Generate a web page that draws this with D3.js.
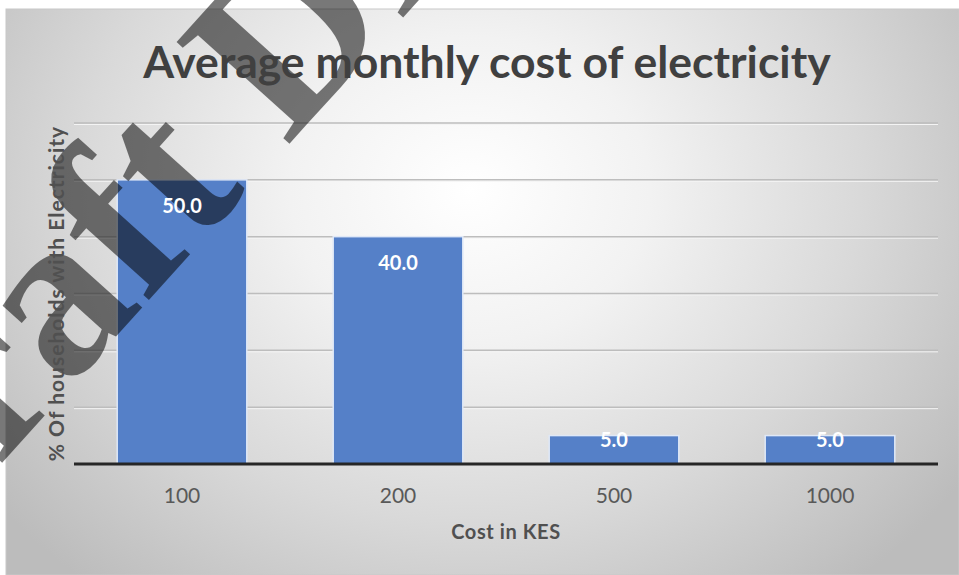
<!DOCTYPE html>
<html>
<head>
<meta charset="utf-8">
<script src="https://cdn.jsdelivr.net/npm/d3@7"></script>
<style>
  html, body { margin: 0; padding: 0; background: #ffffff; }
  svg { display: block; }
</style>
</head>
<body>
<svg id="chart" width="959" height="575"></svg>
<script>
// ---- data ----
const categories = ["100", "200", "500", "1000"];
const values = [50.0, 40.0, 5.0, 5.0];
const yTicks = [10, 20, 30, 40, 50, 60];
const titleText = "Average monthly cost of electricity";
const xTitle = "Cost in KES";
const yTitle = "% Of households with Electricity";
const watermarkText = "Draft Draft";

// ---- layout ----
const W = 959, H = 575;
const frame = { x: 6, y: 9, w: 953, h: 566 };
const plot = { left: 74, right: 938, top: 123, bottom: 464 };

const svg = d3.select("#chart");
const defs = svg.append("defs");

const grad = defs.append("radialGradient")
  .attr("id", "bg").attr("gradientUnits", "userSpaceOnUse")
  .attr("cx", 470).attr("cy", 190).attr("r", 600)
  .attr("gradientTransform", "translate(470,190) scale(1,0.85) translate(-470,-190)");
grad.append("stop").attr("offset", "0%").attr("stop-color", "#ffffff");
grad.append("stop").attr("offset", "30%").attr("stop-color", "#f2f2f2");
grad.append("stop").attr("offset", "65%").attr("stop-color", "#d9d9d9");
grad.append("stop").attr("offset", "100%").attr("stop-color", "#bcbcbc");

// frame background
svg.append("rect")
  .attr("x", frame.x).attr("y", frame.y).attr("width", frame.w).attr("height", frame.h)
  .attr("fill", "url(#bg)")
  .attr("stroke", "#c8c8c8").attr("stroke-width", 1);

// scales
const x = d3.scaleBand().domain(categories).range([plot.left, plot.right]).paddingInner(0.4).paddingOuter(0.2);
const y = d3.scaleLinear().domain([0, 60]).range([plot.bottom, plot.top]);

// gridlines (with a faint light line under each, like the reference)
const grid = svg.append("g");
grid.selectAll("line.hl").data(yTicks).join("line")
  .attr("x1", plot.left).attr("x2", plot.right)
  .attr("y1", d => y(d) + 1.5).attr("y2", d => y(d) + 1.5)
  .attr("stroke", "#f4f4f4").attr("stroke-width", 1);
grid.selectAll("line.g").data(yTicks).join("line")
  .attr("x1", plot.left).attr("x2", plot.right)
  .attr("y1", d => y(d)).attr("y2", d => y(d))
  .attr("stroke", "#bdbdbd").attr("stroke-width", 1.5);

// bars
const bars = svg.append("g");
bars.selectAll("rect").data(values).join("rect")
  .attr("x", (d, i) => x(categories[i]))
  .attr("y", d => y(d))
  .attr("width", x.bandwidth())
  .attr("height", d => y(0) - y(d))
  .attr("fill", "#5580c8")
  .attr("stroke", "#dfe8f7").attr("stroke-width", 1.5);

// baseline axis
const xAxis = d3.axisBottom(x).tickSize(0).tickPadding(24);
const gx = svg.append("g").attr("transform", `translate(0,${y(0)})`).call(xAxis);
gx.select(".domain").attr("stroke", "#262626").attr("stroke-width", 3)
  .attr("d", `M${plot.left},0H${plot.right}`);
gx.selectAll(".tick text")
  .attr("font-family", "Lato, 'Open Sans', sans-serif")
  .attr("font-size", 21).attr("fill", "#595959");

// watermark (above marks, below texts)
svg.append("text")
  .attr("transform", "translate(-114,592) rotate(-48)")
  .attr("font-family", "'Liberation Serif', 'DejaVu Serif', serif")
  .attr("font-weight", "bold").attr("font-size", 232)
  .attr("fill", "#000000").attr("fill-opacity", 0.53)
  .text(watermarkText);

// data labels
svg.append("g").selectAll("text").data(values).join("text")
  .attr("x", (d, i) => x(categories[i]) + x.bandwidth() / 2)
  .attr("y", d => y(d) + 33)
  .attr("text-anchor", "middle")
  .attr("font-family", "Lato, 'Open Sans', sans-serif")
  .attr("font-weight", "bold").attr("font-size", 20)
  .attr("fill", "#ffffff")
  .text(d => d.toFixed(1))
  .each(function (d) {
    if (d < 10) d3.select(this).attr("y", y(d) + 11);
  });

// title
svg.append("text")
  .attr("x", 487).attr("y", 78)
  .attr("text-anchor", "middle")
  .attr("font-family", "Lato, 'Open Sans', sans-serif")
  .attr("font-weight", "bold").attr("font-size", 44.5)
  .attr("fill", "#404040")
  .text(titleText);

// x axis title
svg.append("text")
  .attr("x", (plot.left + plot.right) / 2).attr("y", 539)
  .attr("text-anchor", "middle")
  .attr("font-family", "Lato, 'Open Sans', sans-serif")
  .attr("font-weight", "bold").attr("font-size", 20)
  .attr("letter-spacing", 0.6)
  .attr("fill", "#505050")
  .text(xTitle);

// y axis title
svg.append("text")
  .attr("transform", `translate(64,${(plot.top + plot.bottom) / 2}) rotate(-90)`)
  .attr("text-anchor", "middle")
  .attr("font-family", "Lato, 'Open Sans', sans-serif")
  .attr("font-weight", "bold").attr("font-size", 21)
  .attr("letter-spacing", 1)
  .attr("fill", "#505050")
  .text(yTitle);
</script>
</body>
</html>
